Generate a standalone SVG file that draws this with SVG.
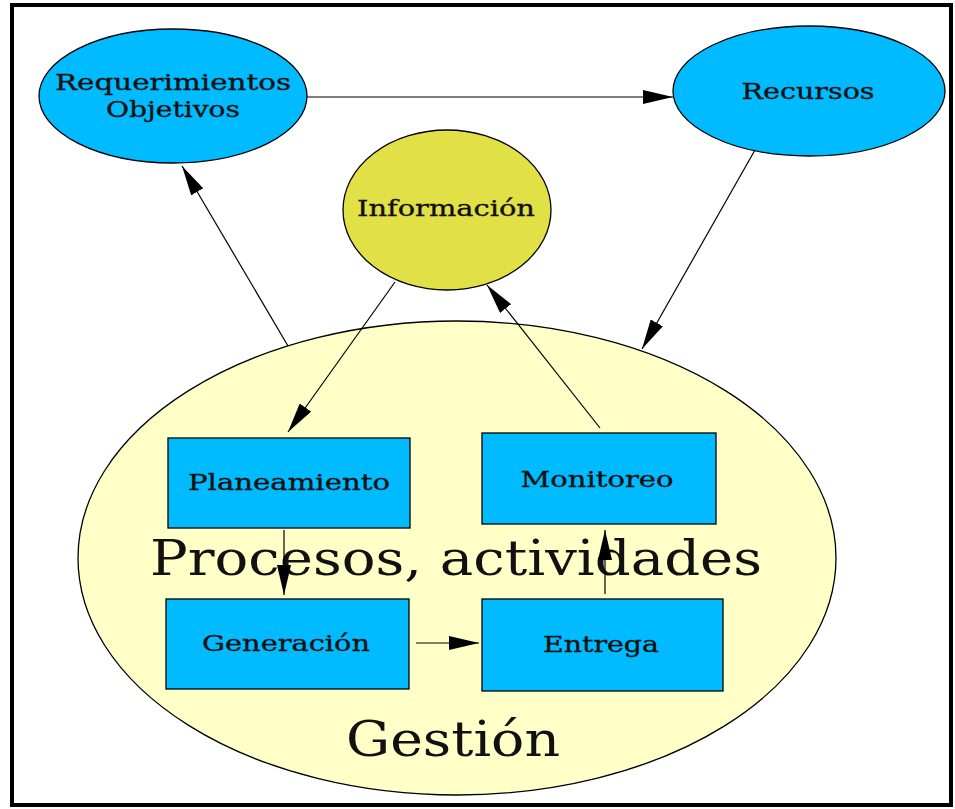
<svg xmlns="http://www.w3.org/2000/svg" width="955" height="809" viewBox="0 0 955 809">
  <style>
    .node { stroke: #000; stroke-width: 1.3; }
    .blue { fill: #00bbff; }
    .info { fill: #e2e047; }
    .area { fill: #ffffc8; }
    .lbl { font-family: "DejaVu Serif", "Liberation Serif", serif; font-size: 23px; fill: #111; stroke: #111; stroke-width: 0.35; text-anchor: middle; }
    .big { font-family: "DejaVu Serif", "Liberation Serif", serif; font-size: 49px; fill: #111; text-anchor: middle; }
    .edge { stroke: #000; stroke-width: 1.2; fill: none; marker-end: url(#arrow); }
  </style>
  <defs>
    <marker id="arrow" markerUnits="userSpaceOnUse" markerWidth="30" markerHeight="14" refX="30" refY="7" orient="auto">
      <polygon points="0,0 30,7 0,14" fill="#000"/>
    </marker>
  </defs>

  <!-- page background and frame -->
  <rect x="0" y="0" width="955" height="809" fill="#fff"/>
  <rect x="12" y="5" width="939" height="800" fill="none" stroke="#000" stroke-width="4"/>

  <!-- management area containing the processes -->
  <g id="gestion">
    <ellipse class="node area" cx="457" cy="558" rx="379" ry="237"/>
    <text class="big" x="456" y="575" textLength="612" lengthAdjust="spacingAndGlyphs">Procesos, actividades</text>
    <text class="big" x="453" y="756" textLength="214" lengthAdjust="spacingAndGlyphs">Gestión</text>
  </g>

  <g id="requerimientos">
    <ellipse class="node blue" cx="173" cy="96" rx="134" ry="67"/>
    <text class="lbl" x="173" y="90" textLength="236" lengthAdjust="spacingAndGlyphs">Requerimientos</text>
    <text class="lbl" x="173" y="117" textLength="134" lengthAdjust="spacingAndGlyphs">Objetivos</text>
  </g>

  <g id="recursos">
    <ellipse class="node blue" cx="809" cy="91" rx="136" ry="65"/>
    <text class="lbl" x="808" y="99" textLength="133" lengthAdjust="spacingAndGlyphs">Recursos</text>
  </g>

  <g id="informacion">
    <ellipse class="node info" cx="447" cy="210" rx="104" ry="80"/>
    <text class="lbl" x="446" y="216" textLength="178" lengthAdjust="spacingAndGlyphs">Información</text>
  </g>

  <g id="planeamiento">
    <rect class="node blue" x="168" y="438" width="242" height="90"/>
    <text class="lbl" x="289" y="490" textLength="202" lengthAdjust="spacingAndGlyphs">Planeamiento</text>
  </g>

  <g id="monitoreo">
    <rect class="node blue" x="482" y="433" width="234" height="91"/>
    <text class="lbl" x="597" y="487" textLength="153" lengthAdjust="spacingAndGlyphs">Monitoreo</text>
  </g>

  <g id="generacion">
    <rect class="node blue" x="166" y="599" width="243" height="90"/>
    <text class="lbl" x="286" y="651" textLength="168" lengthAdjust="spacingAndGlyphs">Generación</text>
  </g>

  <g id="entrega">
    <rect class="node blue" x="482" y="599" width="241" height="92"/>
    <text class="lbl" x="601" y="652" textLength="116" lengthAdjust="spacingAndGlyphs">Entrega</text>
  </g>

  <!-- connectors -->
  <g id="connectors">
    <line class="edge" x1="307" y1="97" x2="673" y2="97"/>
    <line class="edge" x1="288" y1="346" x2="182" y2="166"/>
    <line class="edge" x1="755" y1="150" x2="642" y2="349"/>
    <line class="edge" x1="395" y1="282" x2="288" y2="432"/>
    <line class="edge" x1="600" y1="428" x2="487" y2="285"/>
    <line class="edge" x1="284" y1="530" x2="284" y2="595"/>
    <line class="edge" x1="416" y1="643" x2="479" y2="643"/>
    <line class="edge" x1="605" y1="594" x2="605" y2="530"/>
  </g>
</svg>
